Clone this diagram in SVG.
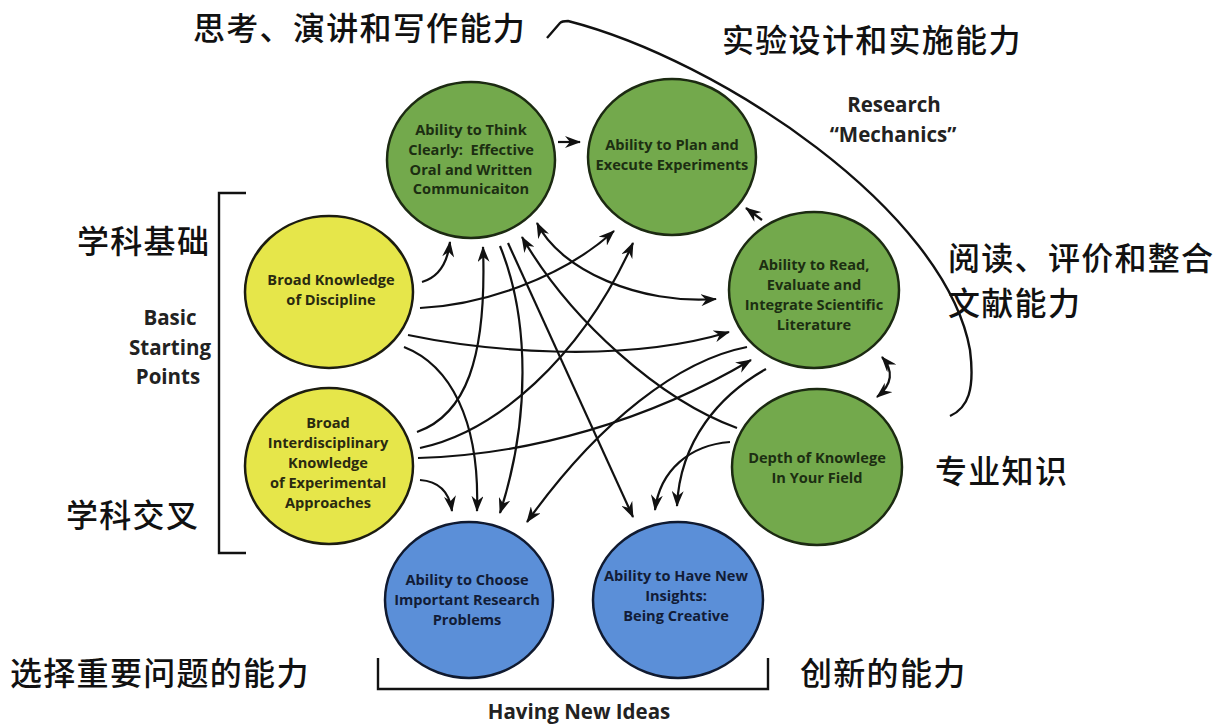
<svg xmlns="http://www.w3.org/2000/svg" width="1225" height="728" viewBox="0 0 1225 728">
<defs>
<style>
.zh{font-family:"Noto Sans CJK SC","Noto Sans",sans-serif;font-size:32px;letter-spacing:1.3px;font-weight:500;fill:#111}
.en{font-family:"Open Sans","Liberation Sans",sans-serif;font-weight:700;text-anchor:middle}
.lbl{font-size:20.5px;fill:#222}
.c{font-size:14.6px}
.g ellipse{fill:#73a94c;stroke:#1c2a12;stroke-width:2.5}
.y ellipse{fill:#e6e64a;stroke:#1c1c10;stroke-width:2.5}
.b ellipse{fill:#5b8fd8;stroke:#101a30;stroke-width:2.5}
.g text{fill:#1c2e12}
.y text{fill:#2a2a10}
.b text{fill:#121c36}
.cn path{fill:none;stroke:#111;stroke-width:2.2;marker-end:url(#ah)}
.cn path.two{marker-start:url(#ah)}
.br{fill:none;stroke:#111;stroke-width:2.4}
</style>
<marker id="ah" viewBox="0 0 16 12" refX="15" refY="6" markerWidth="16" markerHeight="12" markerUnits="userSpaceOnUse" orient="auto-start-reverse">
<path d="M0,0 L16,6 L0,12 L5,6 z" fill="#111"/>
</marker>
</defs>
<rect width="1225" height="728" fill="#fff"/>

<g id="labels-zh">
<text class="zh" x="193" y="40">思考、演讲和写作能力</text>
<text class="zh" x="722" y="52">实验设计和实施能力</text>
<text class="zh" x="948" y="270">阅读、评价和整合</text>
<text class="zh" x="948" y="315">文献能力</text>
<text class="zh" x="77" y="253">学科基础</text>
<text class="zh" x="66" y="527">学科交叉</text>
<text class="zh" x="935" y="483">专业知识</text>
<text class="zh" x="10" y="685">选择重要问题的能力</text>
<text class="zh" x="800" y="685">创新的能力</text>
</g>

<g id="labels-en">
<text class="en lbl" x="894" y="112">Research</text>
<text class="en lbl" x="893" y="142">“Mechanics”</text>
<text class="en lbl" x="170" y="325">Basic</text>
<text class="en lbl" x="170" y="355">Starting</text>
<text class="en lbl" x="168" y="384">Points</text>
<text class="en lbl" x="579" y="719">Having New Ideas</text>
</g>

<g id="brackets">
<path class="br" d="M246,193 L219,193 L219,553 L246,553"/>
<path class="br" d="M378,658 L378,689 L768,689 L768,658"/>
<path class="br" d="M547,38 L560,23 C562,21 565,21 568,21 C720,60 945,210 970,350 C975,390 968,408 950,416"/>
</g>

<g id="node-think" class="g">
<ellipse cx="471" cy="160" rx="84" ry="78"/>
<text class="en c" x="471" y="135">Ability to Think</text>
<text class="en c" x="471" y="155">Clearly:&#160; Effective</text>
<text class="en c" x="471" y="175">Oral and Written</text>
<text class="en c" x="471" y="194">Communicaiton</text>
</g>
<g id="node-plan" class="g">
<ellipse cx="672" cy="157" rx="84" ry="78"/>
<text class="en c" x="672" y="150">Ability to Plan and</text>
<text class="en c" x="672" y="170">Execute Experiments</text>
</g>
<g id="node-read" class="g">
<ellipse cx="814" cy="290" rx="85" ry="78"/>
<text class="en c" x="814" y="270">Ability to Read,</text>
<text class="en c" x="814" y="290">Evaluate and</text>
<text class="en c" x="814" y="310">Integrate Scientific</text>
<text class="en c" x="814" y="330">Literature</text>
</g>
<g id="node-depth" class="g">
<ellipse cx="817" cy="467" rx="85" ry="78"/>
<text class="en c" x="817" y="463">Depth of Knowlege</text>
<text class="en c" x="817" y="483">In Your Field</text>
</g>
<g id="node-broad" class="y">
<ellipse cx="329" cy="292" rx="84" ry="76"/>
<text class="en c" x="331" y="285">Broad Knowledge</text>
<text class="en c" x="331" y="305">of Discipline</text>
</g>
<g id="node-inter" class="y">
<ellipse cx="329" cy="466" rx="84" ry="78"/>
<text class="en c" x="328" y="428">Broad</text>
<text class="en c" x="328" y="448">Interdisciplinary</text>
<text class="en c" x="328" y="468">Knowledge</text>
<text class="en c" x="328" y="488">of Experimental</text>
<text class="en c" x="328" y="508">Approaches</text>
</g>
<g id="node-choose" class="b">
<ellipse cx="469" cy="600" rx="84" ry="78"/>
<text class="en c" x="467" y="585">Ability to Choose</text>
<text class="en c" x="467" y="605">Important Research</text>
<text class="en c" x="467" y="625">Problems</text>
</g>
<g id="node-insight" class="b">
<ellipse cx="678" cy="600" rx="85" ry="78"/>
<text class="en c" x="676" y="581">Ability to Have New</text>
<text class="en c" x="676" y="601">Insights:</text>
<text class="en c" x="676" y="621">Being Creative</text>
</g>

<g id="connectors" class="cn">
<path d="M558,142 L580,142"/>
<path d="M762,220 L746,208"/>
<path class="two" d="M882,357 Q900,378 877,397"/>
<path class="two" d="M537,223 C560,270 640,305 716,299"/>
<path d="M422,282 Q446,275 450,242"/>
<path d="M420,308 C480,305 560,280 614,231"/>
<path d="M408,335 C480,350 620,365 729,332"/>
<path d="M404,347 C450,365 480,420 477,511"/>
<path d="M417,432 C465,415 487,360 483,247"/>
<path d="M420,448 C495,432 580,360 633,243"/>
<path d="M418,458 C530,455 650,420 751,360"/>
<path d="M420,480 Q448,482 452,511"/>
<path d="M500,246 C530,320 530,420 500,513"/>
<path d="M508,243 L633,517"/>
<path d="M737,428 C660,400 570,320 522,237"/>
<path d="M730,442 C690,445 660,470 655,510"/>
<path d="M766,369 C720,395 680,440 677,506"/>
<path d="M747,347 C680,360 600,420 527,522"/>
</g>
</svg>
